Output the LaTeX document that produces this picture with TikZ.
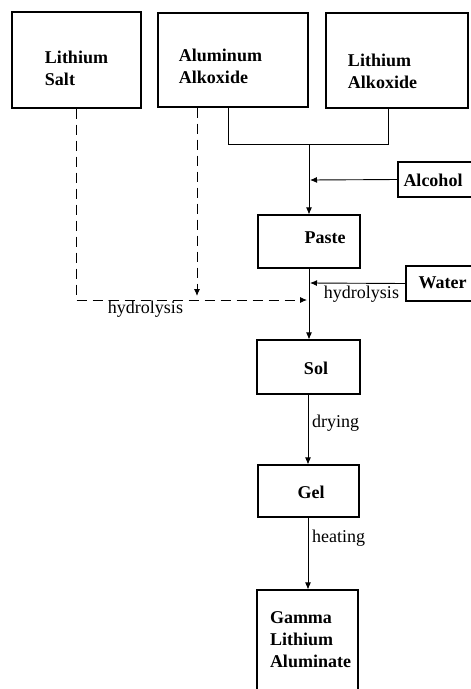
\documentclass[tikz,border=0pt]{standalone}
\usepackage{fontspec}
\setmainfont{Liberation Serif}
\usetikzlibrary{arrows.meta}
\begin{document}
\begin{tikzpicture}[x=1pt,y=-1pt,
  box/.style={draw, line width=1.1pt, inner sep=0pt},
  btext/.style={font=\fontsize{18}{22}\selectfont\bfseries, align=left, inner sep=0pt},
  lbl/.style={font=\fontsize{18}{22}\selectfont, inner sep=0pt},
  flow/.style={line width=0.9pt, -{Latex[length=7pt,width=6pt]}},
  plain/.style={line width=0.9pt},
  dflow/.style={line width=0.9pt, dash pattern=on 10pt off 6pt, -{Latex[length=7pt,width=6pt]}}]
\useasboundingbox (0,0) rectangle (471,689);

% boxes
\node[box, minimum width=129pt, minimum height=96pt] (ls) at (76.5,60) {};
\node[btext] (lst) at (76.5,68) {Lithium\\Salt};
\node[box, minimum width=150pt, minimum height=94pt] (aa) at (233,60) {};
\node[btext] (aat) at (220.5,66.5) {Aluminum\\Alkoxide};
\node[box, minimum width=142pt, minimum height=95pt] (la) at (397,60.5) {};
\node[btext] (lat) at (382.5,71) {Lithium\\Alkoxide};
\node[box, minimum width=82pt, minimum height=35pt] (alc) at (439,179.5) {};
\node[btext] (alct) at (433,180) {Alcohol};
\node[box, minimum width=102pt, minimum height=53pt] (paste) at (309,241.5) {};
\node[btext] (pastet) at (325,238) {Paste};
\node[box, minimum width=82pt, minimum height=35pt] (water) at (447,283.5) {};
\node[btext] (watert) at (442.5,283) {Water};
\node[box, minimum width=103pt, minimum height=54pt] (sol) at (308.5,367) {};
\node[btext] (solt) at (316,368) {Sol};
\node[box, minimum width=101pt, minimum height=52pt] (gel) at (308.5,491) {};
\node[btext] (gelt) at (311,492) {Gel};
\node[box, minimum width=101pt, minimum height=115pt] (gla) at (307.5,647.5) {};
\node[btext] (glat) at (310.5,640) {Gamma\\Lithium\\Aluminate};

% junction coordinates
\coordinate (j1) at (309,144);
\coordinate (j2) at (310,180);
\coordinate (j3) at (310,283);
\coordinate (j4) at (307,300);
\coordinate (d1) at (76,300);
\coordinate (d2) at (197,296);

% solid connectors
\draw[plain] (228,107) -- (228,144) -- (388,144) -- (388,108);
\draw[flow] (j1) -- (paste.north -| j1);
\draw[flow] (alc.west) -- (j2);
\draw[flow] (paste.south) -- (sol.north -| paste.south);
\draw[flow] (water.west) -- (j3);
\draw[flow] (sol.south -| 308,0) -- (gel.north -| 308,0);
\draw[flow] (gel.south -| 308,0) -- (gla.north -| 308,0);

% dashed connectors
\draw[dflow] (ls.south -| 76,0) -- (d1) -- (j4);
\draw[dflow] (aa.south -| 197,0) -- (d2);

% labels
\node[lbl] (h1) at (361.5,294) {hydrolysis};
\node[lbl] (h2) at (145.5,309) {hydrolysis};
\node[lbl, anchor=west] (dry) at (312,423) {drying};
\node[lbl, anchor=west] (heat) at (312,538) {heating};
\end{tikzpicture}
\end{document}
